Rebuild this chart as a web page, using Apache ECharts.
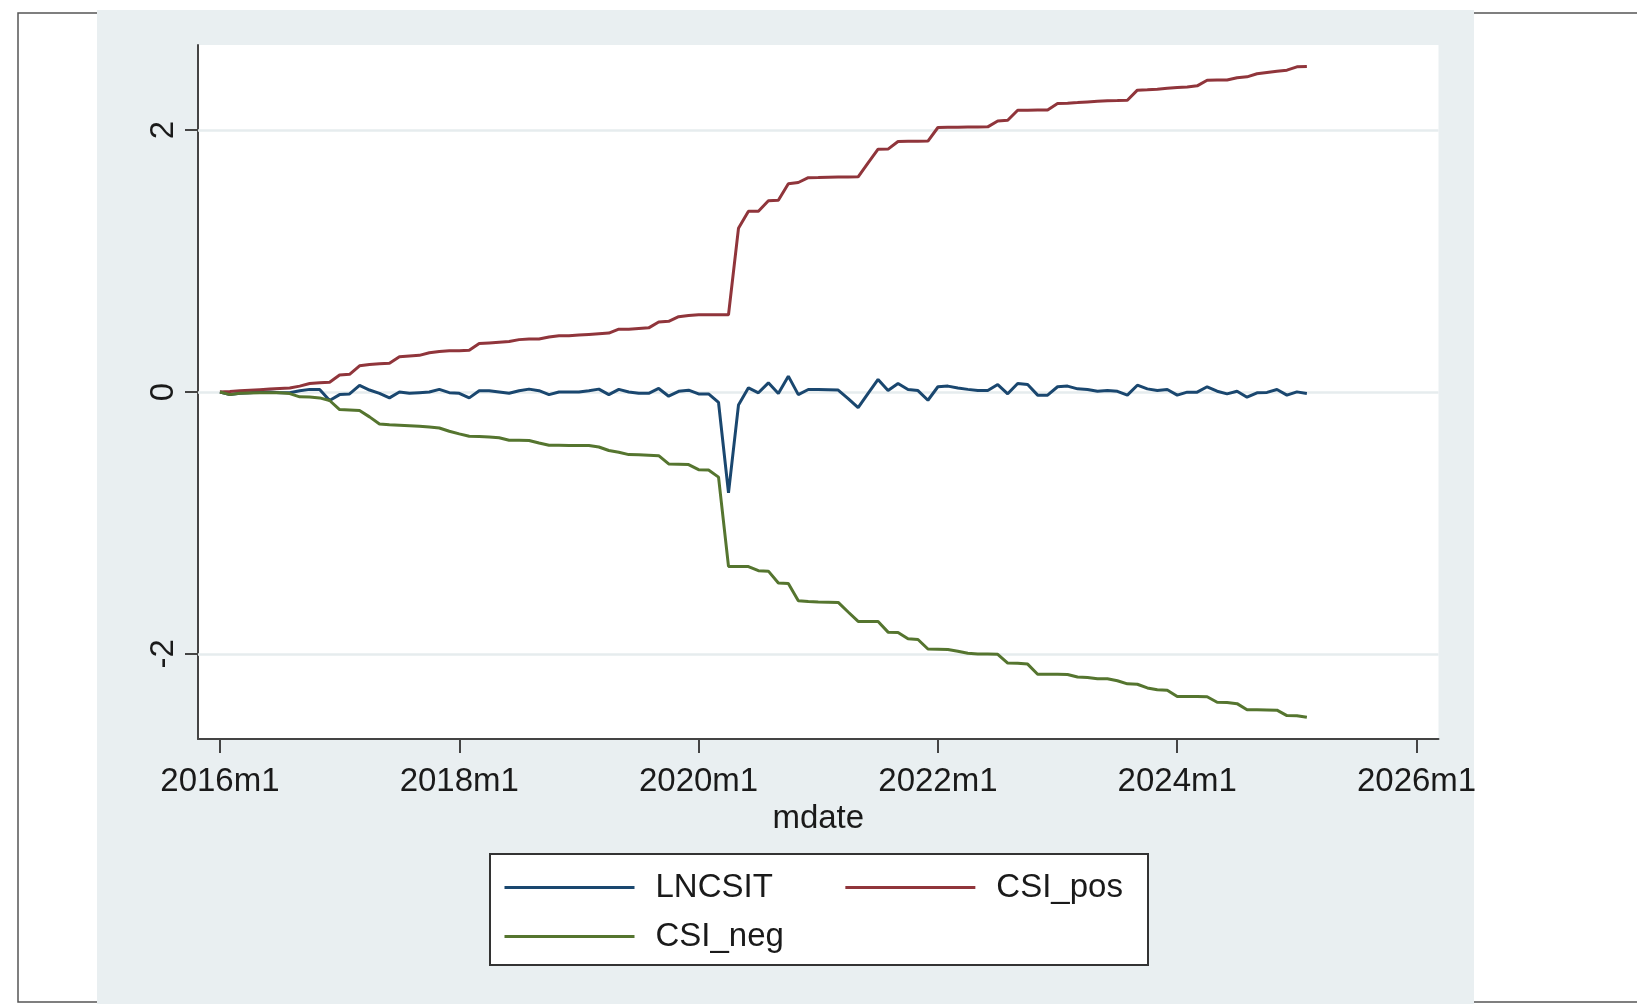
<!DOCTYPE html>
<html><head><meta charset="utf-8">
<script src="https://cdn.jsdelivr.net/npm/echarts@6/dist/echarts.min.js"></script>
<style>html,body{margin:0;padding:0;background:#fff}#c{width:1637px;height:1004px}</style>
</head><body><div id="c"></div>
<script>
// months since 2016m1 (0 = 2016m1 ... 109 = 2025m2)
const seriesNames = ['LNCSIT', 'CSI_pos', 'CSI_neg'];
const lncsit = [
  0, -0.02, -0.01, -0.005, 0, 0, -0.005, -0.005, 0.01, 0.02,
  0.02, -0.065, -0.02, -0.015, 0.05, 0.015, -0.01, -0.045, 0, -0.01,
  -0.005, 0, 0.02, -0.005, -0.01, -0.045, 0.01, 0.01, 0, -0.01,
  0.01, 0.022, 0.01, -0.02, 0, 0, 0, 0.01, 0.022, -0.02,
  0.02, 0, -0.01, -0.01, 0.027, -0.032, 0.005, 0.014, -0.015, -0.015,
  -0.08, -0.77, -0.1, 0.032, -0.006, 0.07, -0.011, 0.121, -0.02, 0.019,
  0.019, 0.018, 0.015, -0.05, -0.12, -0.01, 0.096, 0.011, 0.065, 0.019,
  0.011, -0.063, 0.04, 0.045, 0.03, 0.02, 0.011, 0.011, 0.057, -0.014,
  0.065, 0.057, -0.024, -0.024, 0.04, 0.045, 0.024, 0.019, 0.006, 0.011,
  0.005, -0.024, 0.052, 0.024, 0.011, 0.019, -0.024, -0.001, -0.001, 0.04,
  0.006, -0.014, 0.006, -0.04, -0.006, -0.003, 0.019, -0.024, 0.001, -0.011
];
const csiPos = [
  0, 0.003, 0.01, 0.014, 0.018, 0.022, 0.026, 0.03, 0.045, 0.065,
  0.07, 0.075, 0.13, 0.135, 0.2, 0.21, 0.215, 0.22, 0.27, 0.275,
  0.28, 0.3, 0.31, 0.315, 0.315, 0.318, 0.37, 0.375, 0.38, 0.385,
  0.4, 0.405, 0.405, 0.42, 0.43, 0.43, 0.435, 0.44, 0.445, 0.45,
  0.48, 0.48, 0.485, 0.49, 0.535, 0.54, 0.575, 0.585, 0.59, 0.59,
  0.59, 0.59, 1.25, 1.38, 1.38, 1.46, 1.465, 1.59, 1.6, 1.637,
  1.638, 1.64, 1.641, 1.642, 1.643, 1.75, 1.854, 1.855, 1.913, 1.914,
  1.915, 1.916, 2.02, 2.021, 2.022, 2.023, 2.024, 2.025, 2.07, 2.075,
  2.152, 2.152, 2.153, 2.154, 2.203, 2.206, 2.21, 2.215, 2.22, 2.225,
  2.226, 2.228, 2.305, 2.308, 2.312, 2.32, 2.325, 2.33, 2.338, 2.381,
  2.382, 2.383, 2.4, 2.407, 2.43, 2.44, 2.45, 2.458, 2.483, 2.485
];
const csiNeg = [
  0, -0.02, -0.01, -0.008, -0.006, -0.005, -0.006, -0.012, -0.037, -0.038,
  -0.045, -0.065, -0.134, -0.137, -0.141, -0.19, -0.245, -0.25, -0.254, -0.258,
  -0.262, -0.268, -0.275, -0.3, -0.32, -0.338, -0.34, -0.343, -0.35, -0.368,
  -0.368, -0.37, -0.39, -0.407, -0.407, -0.408, -0.408, -0.409, -0.42, -0.447,
  -0.46, -0.478, -0.48, -0.483, -0.486, -0.549, -0.551, -0.554, -0.593, -0.595,
  -0.65, -1.332, -1.332, -1.333, -1.365, -1.368, -1.459, -1.462, -1.594, -1.6,
  -1.603, -1.605, -1.607, -1.68, -1.752, -1.752, -1.753, -1.834, -1.837, -1.885,
  -1.89, -1.963, -1.965, -1.967, -1.98, -1.995, -2.0, -2.0, -2.003, -2.07,
  -2.072, -2.078, -2.155, -2.155, -2.156, -2.157, -2.177, -2.18, -2.19, -2.19,
  -2.205, -2.229, -2.232, -2.26, -2.274, -2.277, -2.325, -2.325, -2.326, -2.327,
  -2.369, -2.372, -2.38, -2.427, -2.427, -2.428, -2.43, -2.471, -2.472, -2.484
];
const xTickMonths = [0, 24, 48, 72, 96, 120];
const xTickLabels = ['2016m1', '2018m1', '2020m1', '2022m1', '2024m1', '2026m1'];
const yTickValues = [-2, 0, 2];
const yTickLabels = ['-2', '0', '2'];
const xAxisTitle = 'mdate';

const colors = ['#1a476f', '#90353b', '#55752f'];
const FONT = "'Liberation Sans', Arial, sans-serif";
const months = lncsit.map((_, i) => i);
const toPairs = arr => arr.map((v, i) => [months[i], v]);

const chart = echarts.init(document.getElementById('c'), null, {renderer: 'canvas'});
const axisColor = '#444';
const textStyleBase = {fontFamily: FONT, fontSize: 33, color: '#1a1a1a'};
const LW = 3;

const legendCommon = {
  orient: 'horizontal', itemWidth: 130, itemHeight: 14, selectedMode: false,
  itemStyle: {opacity: 0, borderWidth: 0},
  lineStyle: {width: LW},
  textStyle: Object.assign({padding: [0, 0, 0, 16]}, textStyleBase)
};

const option = {
  animation: false,
  backgroundColor: '#ffffff',
  graphic: [
    {type: 'rect', silent: true, z: -20, shape: {x: 18, y: 13, width: 1700, height: 989},
     style: {fill: 'none', stroke: '#555', lineWidth: 1.5}},
    {type: 'rect', silent: true, z: -19, shape: {x: 97, y: 10, width: 1377, height: 1000},
     style: {fill: '#e9eff1'}},
    {type: 'rect', silent: true, z: -18, shape: {x: 490, y: 854, width: 658, height: 111},
     style: {fill: '#ffffff', stroke: '#333', lineWidth: 2}}
  ],
  grid: {left: 198, top: 45, width: 1240.5, height: 694, show: true,
         backgroundColor: '#ffffff', borderWidth: 0, containLabel: false},
  xAxis: {
    type: 'value', min: -2.2, max: 122.2,
    name: xAxisTitle, nameLocation: 'middle', nameGap: 61,
    nameTextStyle: textStyleBase,
    axisLine: {show: true, onZero: false, lineStyle: {color: axisColor, width: 2}},
    axisTick: {show: true, length: 14, customValues: xTickMonths, lineStyle: {color: axisColor, width: 2}},
    axisLabel: Object.assign({customValues: xTickMonths, margin: 26,
      formatter: v => { const i = xTickMonths.indexOf(v); return i >= 0 ? xTickLabels[i] : ''; }}, textStyleBase),
    splitLine: {show: false}
  },
  yAxis: {
    type: 'value', min: -2.65, max: 2.65,
    axisLine: {show: true, onZero: false, lineStyle: {color: axisColor, width: 2}},
    axisTick: {show: true, length: 13, customValues: yTickValues, lineStyle: {color: axisColor, width: 2}},
    axisLabel: Object.assign({customValues: yTickValues, margin: 18, rotate: 90,
      formatter: v => { const i = yTickValues.indexOf(v); return i >= 0 ? yTickLabels[i] : ''; }}, textStyleBase),
    splitLine: {show: false}
  },
  legend: [
    Object.assign({data: [seriesNames[0], seriesNames[1]], left: 498, top: 866, itemGap: 71}, legendCommon),
    Object.assign({data: [seriesNames[2]], left: 498, top: 915}, legendCommon)
  ],
  series: [
    {name: '_grid', type: 'line', data: [], silent: true, z: 1,
     markLine: {silent: true, symbol: 'none', z: 1, animation: false, label: {show: false},
       lineStyle: {color: '#e6ecee', width: 2.5, type: 'solid'},
       data: yTickValues.map(v => ({yAxis: v}))}},
    {name: seriesNames[0], type: 'line', data: toPairs(lncsit), symbol: 'none', z: 3,
     lineStyle: {color: colors[0], width: LW}, itemStyle: {color: colors[0]}},
    {name: seriesNames[1], type: 'line', data: toPairs(csiPos), symbol: 'none', z: 3,
     lineStyle: {color: colors[1], width: LW}, itemStyle: {color: colors[1]}},
    {name: seriesNames[2], type: 'line', data: toPairs(csiNeg), symbol: 'none', z: 3,
     lineStyle: {color: colors[2], width: LW}, itemStyle: {color: colors[2]}}
  ]
};
chart.setOption(option);
</script></body></html>
